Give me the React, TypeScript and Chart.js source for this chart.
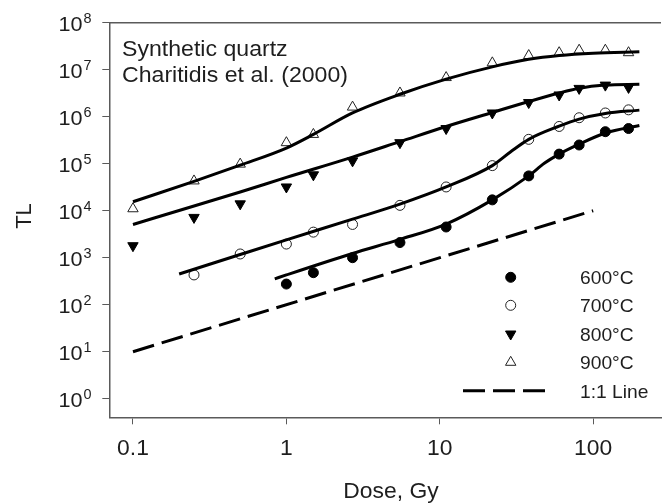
import React, { useEffect, useRef } from 'react';
import { Chart, registerables } from 'chart.js';
import { drawPoint } from 'chart.js/helpers';

Chart.register(...registerables);

// ---------- data ----------
const X_TICKS = [0.1, 1, 10, 100];
const X_TICK_LABELS = ['0.1', '1', '10', '100'];
const Y_TICKS = [1, 10, 100, 1e3, 1e4, 1e5, 1e6, 1e7, 1e8];
const Y_TICK_EXPONENTS = ['0', '1', '2', '3', '4', '5', '6', '7', '8'];

const DOSE_900 = [0.1, 0.25, 0.5, 1, 1.5, 2.7, 5.5, 11, 22, 38, 60, 81, 120, 170];
const TL_900 = [1.1e4, 4.3e4, 9.8e4, 2.8e5, 4.2e5, 1.6e6, 3.2e6, 6.8e6, 1.4e7, 2.0e7, 2.3e7, 2.6e7, 2.6e7, 2.3e7];

const DOSE_800 = [0.1, 0.25, 0.5, 1, 1.5, 2.7, 5.5, 11, 22, 38, 60, 81, 120, 170];
const TL_800 = [1.8e3, 7.2e3, 1.4e4, 3.2e4, 5.8e4, 1.15e5, 2.8e5, 5.6e5, 1.2e6, 2.0e6, 2.9e6, 4.0e6, 4.7e6, 4.2e6];

const DOSE_700 = [0.25, 0.5, 1, 1.5, 2.7, 5.5, 11, 22, 38, 60, 81, 120, 170];
const TL_700 = [430, 1.2e3, 1.95e3, 3.5e3, 5.1e3, 1.3e4, 3.2e4, 9.1e4, 3.3e5, 6.2e5, 9.5e5, 1.2e6, 1.4e6];

const DOSE_600 = [1, 1.5, 2.7, 5.5, 11, 22, 38, 60, 81, 120, 170];
const TL_600 = [275, 480, 1.0e3, 2.1e3, 4.5e3, 1.7e4, 5.5e4, 1.6e5, 2.5e5, 4.8e5, 5.6e5];

// fitted curves
const FIT_DOSE_900 = [0.1, 0.25, 0.5, 1, 1.5, 2.7, 5.5, 11, 22, 38, 60, 100, 200];
const FIT_TL_900 = [1.55e4, 4.2e4, 9.3e4, 2.15e5, 4.2e5, 1.2e6, 3.0e6, 6.3e6, 1.15e7, 1.66e7, 2.0e7, 2.24e7, 2.4e7];

const FIT_DOSE_800 = [0.1, 0.25, 0.5, 1, 2.7, 5.5, 11, 22, 38, 60, 80, 120, 200];
const FIT_TL_800 = [5.1e3, 1.26e4, 2.5e4, 5.1e4, 1.38e5, 2.95e5, 6.2e5, 1.23e6, 2.1e6, 3.2e6, 4.0e6, 4.7e6, 4.9e6];

const FIT_DOSE_700 = [0.2, 0.5, 1, 2.7, 5.5, 11, 22, 29, 38, 60, 81, 120, 200];
const FIT_TL_700 = [450, 1.17e3, 2.4e3, 6.6e3, 1.38e4, 3.2e4, 9.1e4, 1.8e5, 3.3e5, 6.3e5, 8.9e5, 1.17e6, 1.38e6];

const FIT_DOSE_600 = [0.84, 1, 2.7, 5.5, 11, 22, 38, 48, 60, 81, 120, 200];
const FIT_TL_600 = [355, 430, 1.23e3, 2.45e3, 5.2e3, 1.7e4, 5.5e4, 1.02e5, 1.6e5, 2.6e5, 4.5e5, 6.5e5];

const LINE_1TO1_DOSE = [0.1, 100];
const LINE_1TO1_TL = [10, 1e4];

const SERIES_LABELS = ['600°C', '700°C', '800°C', '900°C', '1:1 Line'];
const NOTE_LINES = ['Synthetic quartz', 'Charitidis et al. (2000)'];
const X_TITLE = 'Dose, Gy';
const Y_TITLE = 'TL';

// ---------- styling ----------
const FONT = '"Liberation Sans", Arial, Helvetica, sans-serif';
const TEXT = '#1e1e1e';
const AXIS = '#5a5a5a';

const pts = (xs: number[], ys: number[]) => xs.map((x, i) => ({ x, y: ys[i] }));

const MARKERS: any[] = [
  { pointStyle: 'circle', radius: 5, rotation: 0, fill: '#000', border: '#000', bw: 1 },
  { pointStyle: 'circle', radius: 5, rotation: 0, fill: 'rgba(0,0,0,0)', border: '#222', bw: 1 },
  { pointStyle: 'triangle', radius: 6, rotation: 180, fill: '#000', border: '#000', bw: 1 },
  { pointStyle: 'triangle', radius: 6, rotation: 0, fill: 'rgba(0,0,0,0)', border: '#222', bw: 1 },
];

function txt(ctx: CanvasRenderingContext2D, s: string, x: number, y: number, size: number, align: CanvasTextAlign = 'left', sx = 1.0) {
  ctx.save();
  ctx.font = `${size}px ${FONT}`;
  ctx.fillStyle = TEXT;
  ctx.textAlign = align;
  ctx.textBaseline = 'alphabetic';
  ctx.translate(x, y);
  ctx.scale(sx, 1);
  ctx.fillText(s, 0, 0);
  ctx.restore();
}

const decorPlugin = {
  id: 'decor',
  afterDraw(chart: any) {
    const ctx: CanvasRenderingContext2D = chart.ctx;
    const { left, right, top } = chart.chartArea;
    const xs = chart.scales.x;
    const ys = chart.scales.y;

    // top frame line
    ctx.save();
    ctx.strokeStyle = AXIS;
    ctx.lineWidth = 1.5;
    ctx.beginPath();
    ctx.moveTo(left, top);
    ctx.lineTo(right, top);
    ctx.stroke();
    ctx.restore();

    // x tick labels
    X_TICKS.forEach((v, i) => {
      txt(ctx, X_TICK_LABELS[i], xs.getPixelForValue(v), 455, 22, 'center', 1.04);
    });
    // y tick labels 10^n
    Y_TICKS.forEach((v, i) => {
      const y = ys.getPixelForValue(v);
      txt(ctx, '10', 82.5, y + 8, 21, 'right', 1.03);
      txt(ctx, Y_TICK_EXPONENTS[i], 83.5, y + 0.5, 14, 'left', 1.03);
    });
    // axis titles
    txt(ctx, X_TITLE, 391, 498, 22, 'center', 1.04);
    ctx.save();
    ctx.translate(31, 216);
    ctx.rotate(-Math.PI / 2);
    txt(ctx, Y_TITLE, 0, 0, 22, 'center');
    ctx.restore();

    // note
    txt(ctx, NOTE_LINES[0], 122, 55.5, 22, 'left', 1.05);
    txt(ctx, NOTE_LINES[1], 122, 82, 22, 'left', 1.05);

    // legend
    const rowsY = [277.3, 305.3, 334, 362.3, 390.7];
    const markerX = 510.7;
    const textX = 580;
    MARKERS.forEach((m, i) => {
      ctx.save();
      ctx.fillStyle = m.fill;
      ctx.strokeStyle = m.border;
      ctx.lineWidth = m.bw;
      drawPoint(ctx, { pointStyle: m.pointStyle, rotation: m.rotation, radius: m.radius, borderWidth: m.bw } as any, markerX, rowsY[i]);
      ctx.restore();
      txt(ctx, SERIES_LABELS[i], textX, rowsY[i] + 7, 18.5, 'left', 1.04);
    });
    ctx.save();
    ctx.strokeStyle = '#000';
    ctx.lineWidth = 3;
    ctx.setLineDash([22, 8]);
    ctx.beginPath();
    ctx.moveTo(463, rowsY[4]);
    ctx.lineTo(548, rowsY[4]);
    ctx.stroke();
    ctx.restore();
    txt(ctx, SERIES_LABELS[4], textX, rowsY[4] + 7, 18.5, 'left', 1.04);
  },
};

export default function App() {
  const ref = useRef<HTMLCanvasElement | null>(null);
  useEffect(() => {
    if (!ref.current) return;
    const fit = (xs: number[], ys: number[]) => ({
      type: 'line' as const,
      data: pts(xs, ys),
      borderColor: '#000',
      borderWidth: 3,
      pointRadius: 0,
      fill: false,
      showLine: true,
      cubicInterpolationMode: 'monotone' as const,
    });
    const sc = (xs: number[], ys: number[], m: any) => ({
      type: 'scatter' as const,
      data: pts(xs, ys),
      showLine: false,
      pointStyle: m.pointStyle,
      rotation: m.rotation,
      pointRadius: m.radius,
      pointBackgroundColor: m.fill,
      pointBorderColor: m.border,
      pointBorderWidth: m.bw,
    });
    const chart = new Chart(ref.current, {
      type: 'scatter',
      data: {
        datasets: [
          fit(FIT_DOSE_900, FIT_TL_900),
          fit(FIT_DOSE_800, FIT_TL_800),
          fit(FIT_DOSE_700, FIT_TL_700),
          fit(FIT_DOSE_600, FIT_TL_600),
          {
            type: 'line',
            data: pts(LINE_1TO1_DOSE, LINE_1TO1_TL),
            borderColor: '#000',
            borderWidth: 3,
            borderDash: [22, 8],
            pointRadius: 0,
            fill: false,
          },
          sc(DOSE_600, TL_600, MARKERS[0]),
          sc(DOSE_700, TL_700, MARKERS[1]),
          sc(DOSE_800, TL_800, MARKERS[2]),
          sc(DOSE_900, TL_900, MARKERS[3]),
        ] as any,
      },
      options: {
        animation: false,
        responsive: false,
        devicePixelRatio: 1,
        layout: { padding: { left: 0, right: 0, top: 22.7, bottom: 0 } },
        plugins: { legend: { display: false }, tooltip: { enabled: false } },
        scales: {
          x: {
            type: 'logarithmic',
            min: 0.0701,
            max: 276.7,
            afterBuildTicks: (s: any) => { s.ticks = X_TICKS.map((v) => ({ value: v })); },
            afterFit: (s: any) => { s.height = 85.7; },
            ticks: { display: false },
            grid: { display: true, drawOnChartArea: false, drawTicks: true, tickLength: 7, color: AXIS, lineWidth: 1 },
            border: { display: true, color: AXIS, width: 1.5 },
          },
          y: {
            type: 'logarithmic',
            min: 0.402,
            max: 1e8,
            afterBuildTicks: (s: any) => { s.ticks = Y_TICKS.map((v) => ({ value: v })); },
            afterFit: (s: any) => { s.width = 109.3; },
            ticks: { display: false },
            grid: { display: true, drawOnChartArea: false, drawTicks: true, tickLength: 7, color: AXIS, lineWidth: 1 },
            border: { display: true, color: AXIS, width: 1.5 },
          },
        },
      } as any,
      plugins: [decorPlugin],
    });
    return () => chart.destroy();
  }, []);
  return (
    <div style={{ position: 'absolute', left: 0, top: 0, width: 668, height: 503, background: '#fff' }}>
      <canvas ref={ref} width={668} height={503} style={{ width: 668, height: 503, display: 'block' }} />
    </div>
  );
}
